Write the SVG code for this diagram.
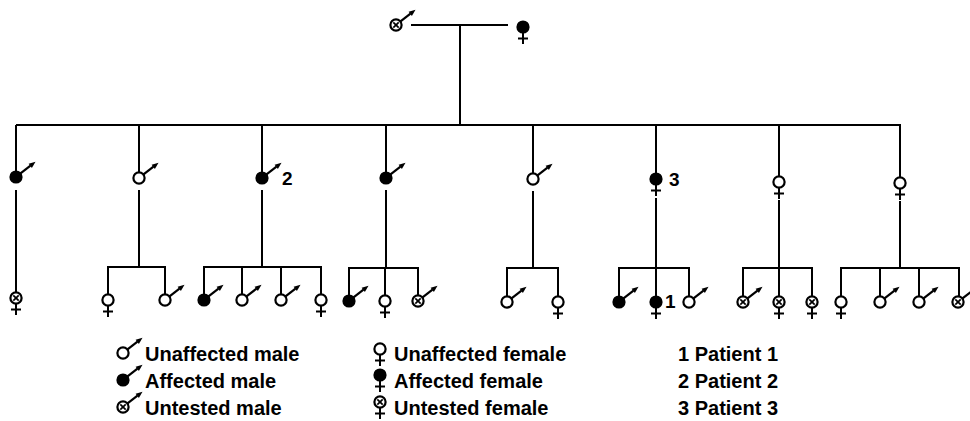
<svg xmlns="http://www.w3.org/2000/svg" xmlns:xlink="http://www.w3.org/1999/xlink" width="970" height="421" viewBox="0 0 970 421">
<style>
.ln{stroke:#000;stroke-width:2;fill:none}
.c{stroke:#000;stroke-width:2.2}
.u{fill:#fff}
.a{fill:#000}
.t{font-family:"Liberation Sans",Arial,sans-serif;font-weight:bold;font-size:20px;fill:#000}
.n{font-family:"Liberation Sans",Arial,sans-serif;font-weight:bold;font-size:19px;fill:#000}
</style>
<defs>
<g id="arrow">
<line x1="4.5" y1="-3.6" x2="14.5" y2="-11.4" stroke="#000" stroke-width="2.2"/>
<polygon points="19.5,-15.3 15.9,-8.9 12.6,-13.2" fill="#000"/>
</g>
<g id="cross">
<line x1="0" y1="6" x2="0" y2="17" stroke="#000" stroke-width="2"/>
<line x1="-5" y1="11.5" x2="5" y2="11.5" stroke="#000" stroke-width="2"/>
</g>
<g id="xmark">
<line x1="-2.7" y1="-2.7" x2="2.7" y2="2.7" stroke="#000" stroke-width="1.7"/>
<line x1="-2.7" y1="2.7" x2="2.7" y2="-2.7" stroke="#000" stroke-width="1.7"/>
</g>
<g id="mU"><use href="#arrow"/><circle r="5.6" class="c u"/></g>
<g id="mA"><use href="#arrow"/><circle r="6.6" class="a"/></g>
<g id="mX"><use href="#arrow"/><circle r="5.6" class="c u"/><use href="#xmark"/></g>
<g id="fU"><use href="#cross"/><circle r="5.6" class="c u"/></g>
<g id="fA"><use href="#cross"/><circle r="6.6" class="a"/></g>
<g id="fX"><use href="#cross"/><circle r="5.6" class="c u"/><use href="#xmark"/></g>
</defs>

<g id="connectors" class="ln">
<path d="M411,25 H508 M460,25 V125 M16,125 H901"/>
<path d="M16,125 V171 M139,125 V172 M262,125 V172 M386,125 V172 M533,125 V173 M656,125 V173 M779,125 V176 M900,125 V177"/>
<path d="M16,190 V292"/>
<path d="M139,190 V267 M108,294 V267 H165 V294"/>
<path d="M262,190 V267 M204,294 V267 H321 V294 M242,267 V294 M281,267 V294"/>
<path d="M386,190 V268 M349,295 V268 H418 V295 M385,268 V295"/>
<path d="M533,191 V268 M507,296 V268 H558 V296"/>
<path d="M656,198 V268 M619,296 V268 H689 V296 M656,268 V296"/>
<path d="M779,200 V268 M743,296 V268 H812 V296 M779,268 V296"/>
<path d="M900,201 V268 M841,296 V268 H959 V296 M880,268 V296 M919,268 V296"/>
</g>

<g id="father"><use href="#mX" x="396" y="25"/></g>
<g id="mother"><use href="#fA" x="523" y="27"/></g>

<g id="g2-1"><use href="#mA" x="16" y="177"/></g>
<g id="g2-2"><use href="#mU" x="139" y="178"/></g>
<g id="g2-3"><use href="#mA" x="262" y="178"/><text class="n" x="282" y="185">2</text></g>
<g id="g2-4"><use href="#mA" x="386" y="178"/></g>
<g id="g2-5"><use href="#mU" x="533" y="179"/></g>
<g id="g2-6"><use href="#fA" x="656" y="179"/><text class="n" x="669" y="186">3</text></g>
<g id="g2-7"><use href="#fU" x="779" y="182"/></g>
<g id="g2-8"><use href="#fU" x="900" y="183"/></g>

<g id="g3-1"><use href="#fX" x="16" y="298"/></g>
<g id="g3-2"><use href="#fU" x="108" y="300"/></g>
<g id="g3-3"><use href="#mU" x="165" y="300"/></g>
<g id="g3-4"><use href="#mA" x="204" y="300"/></g>
<g id="g3-5"><use href="#mU" x="242" y="300"/></g>
<g id="g3-6"><use href="#mU" x="281" y="300"/></g>
<g id="g3-7"><use href="#fU" x="321" y="300"/></g>
<g id="g3-8"><use href="#mA" x="349" y="301"/></g>
<g id="g3-9"><use href="#fU" x="385" y="301"/></g>
<g id="g3-10"><use href="#mX" x="418" y="301"/></g>
<g id="g3-11"><use href="#mU" x="507" y="302"/></g>
<g id="g3-12"><use href="#fU" x="558" y="302"/></g>
<g id="g3-13"><use href="#mA" x="619" y="302"/></g>
<g id="g3-14"><use href="#fA" x="656" y="302"/><text class="n" x="665" y="308">1</text></g>
<g id="g3-15"><use href="#mU" x="689" y="302"/></g>
<g id="g3-16"><use href="#mX" x="743" y="302"/></g>
<g id="g3-17"><use href="#fX" x="779" y="302"/></g>
<g id="g3-18"><use href="#fX" x="812" y="302"/></g>
<g id="g3-19"><use href="#fU" x="841" y="302"/></g>
<g id="g3-20"><use href="#mU" x="880" y="302"/></g>
<g id="g3-21"><use href="#mU" x="919" y="302"/></g>
<g id="g3-22"><use href="#mX" x="958" y="302"/></g>

<g id="legend">
<use href="#mU" x="123" y="353"/><text class="t" x="145" y="361">Unaffected male</text>
<use href="#mA" x="123" y="380"/><text class="t" x="145" y="388">Affected male</text>
<use href="#mX" x="123" y="407"/><text class="t" x="145" y="415">Untested male</text>
<use href="#fU" x="380" y="349"/><text class="t" x="394" y="361">Unaffected female</text>
<use href="#fA" x="380" y="375"/><text class="t" x="394" y="388">Affected female</text>
<use href="#fX" x="380" y="402"/><text class="t" x="394" y="415">Untested female</text>
<text class="t" x="678" y="361">1 Patient 1</text>
<text class="t" x="678" y="388">2 Patient 2</text>
<text class="t" x="678" y="415">3 Patient 3</text>
</g>
</svg>
